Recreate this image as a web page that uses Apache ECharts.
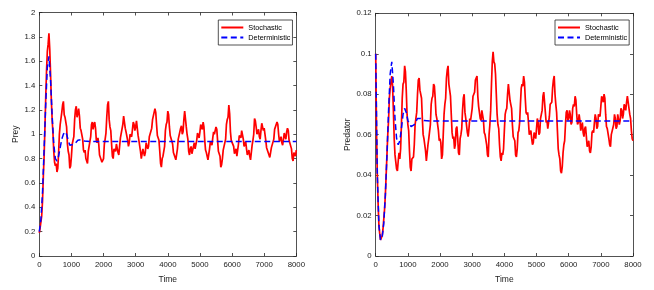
<!DOCTYPE html>
<html>
<head>
<meta charset="utf-8">
<script src="https://cdn.jsdelivr.net/npm/echarts@6/dist/echarts.min.js"></script>
<style>
html,body{margin:0;padding:0;background:#fff;}
#c{width:654px;height:290px;}
</style>
</head>
<body>
<div id="c"></div>
<script>
// ---- data ----
const stochStep = 25; // time between stochastic samples
const preyStoch = [
0.19,0.23,0.24,0.33,0.45,0.65,0.82,1.05,1.30,1.52,1.68,1.74,1.83,1.70,1.50,1.28,1.12,1.01,0.86,0.77,
0.74,0.76,0.69,0.72,0.84,1.00,1.08,1.09,1.18,1.24,1.27,1.16,1.14,1.15,1.06,0.92,0.86,0.83,0.72,0.74,
0.82,0.92,0.93,0.98,1.12,1.20,1.23,1.14,1.17,1.21,1.15,1.05,1.03,1.04,0.96,0.87,0.85,0.87,0.80,0.79,
0.76,0.86,0.90,0.90,0.98,1.08,1.10,1.04,1.08,1.10,1.05,0.95,0.93,0.97,0.92,0.83,0.82,0.84,0.77,0.76,
0.80,0.92,0.96,1.01,1.14,1.24,1.27,1.12,1.06,1.03,0.92,0.82,0.80,0.88,0.88,0.86,0.92,0.93,0.85,0.83,
0.90,0.97,0.96,0.98,1.08,1.15,1.16,1.05,1.02,1.02,0.95,0.90,0.93,1.00,1.00,0.98,1.04,1.10,1.08,1.03,
1.06,1.11,1.10,0.99,0.95,0.94,0.86,0.80,0.80,0.88,0.87,0.82,0.85,0.93,0.93,0.88,0.90,0.98,0.98,0.98,
1.05,1.12,1.12,1.13,1.21,1.18,1.08,0.99,0.98,0.95,0.86,0.76,0.73,0.80,0.82,0.82,0.90,1.03,1.08,1.10,
1.19,1.16,1.06,0.99,1.00,1.00,0.92,0.85,0.85,0.85,0.79,0.80,0.88,0.96,0.96,0.97,1.05,1.07,1.00,1.02,
1.12,1.19,1.20,1.06,1.00,0.96,0.86,0.83,0.88,0.90,0.84,0.84,0.90,0.93,0.88,0.88,0.95,1.01,0.99,0.97,
1.02,1.08,1.06,1.04,1.10,1.06,0.95,0.87,0.85,0.85,0.79,0.80,0.88,0.94,0.93,0.91,0.97,1.02,1.00,0.99,
1.06,1.04,0.95,0.86,0.85,0.82,0.73,0.75,0.80,0.87,0.86,0.87,0.96,1.08,1.12,1.14,1.24,1.17,1.02,0.95,
0.95,0.96,0.90,0.84,0.86,0.88,0.82,0.83,0.92,0.99,0.98,0.97,1.03,1.03,0.96,0.90,0.92,0.94,0.88,0.83,
0.85,0.87,0.82,0.79,0.79,0.91,0.95,1.00,1.13,1.11,1.06,1.00,1.02,1.04,0.98,0.96,1.03,1.09,1.10,1.03,
1.05,1.04,0.95,0.89,0.90,0.90,0.83,0.81,0.80,0.89,0.90,0.89,0.96,1.04,1.04,1.03,1.10,1.08,1.00,0.94,
0.95,0.98,0.93,0.91,0.96,1.01,0.98,0.96,1.02,1.05,1.03,0.95,0.95,0.95,0.88,0.80,0.78,0.85,0.85,0.82,
0.87];
const preyDetTime = [0,50,100,150,200,250,300,350,400,450,500,550,600,650,700,750,800,850,900,950,1000,1100,1200,1300,1400,1600,8000];
const preyDet = [0.20,0.30,0.52,0.88,1.25,1.55,1.64,1.45,1.15,0.92,0.80,0.78,0.82,0.89,0.96,1.00,1.02,1.00,0.95,0.91,0.90,0.92,0.95,0.955,0.945,0.94,0.94];

const predStoch = [
0.100,0.062,0.040,0.026,0.015,0.011,0.008,0.008,0.010,0.013,0.018,0.023,0.030,0.040,0.050,0.060,0.067,0.078,0.083,0.083,
0.089,0.084,0.072,0.058,0.050,0.050,0.043,0.042,0.047,0.051,0.048,0.053,0.065,0.078,0.085,0.086,0.094,0.091,0.082,0.070,
0.065,0.062,0.052,0.044,0.042,0.048,0.048,0.049,0.055,0.065,0.068,0.071,0.080,0.087,0.088,0.082,0.082,0.078,0.068,0.060,
0.058,0.058,0.052,0.047,0.047,0.055,0.058,0.058,0.065,0.075,0.078,0.079,0.085,0.084,0.078,0.070,0.068,0.068,0.062,0.057,
0.058,0.056,0.048,0.050,0.060,0.070,0.075,0.078,0.088,0.092,0.094,0.085,0.082,0.079,0.070,0.061,0.058,0.059,0.053,0.055,
0.063,0.064,0.058,0.051,0.050,0.058,0.060,0.063,0.072,0.078,0.080,0.071,0.068,0.068,0.061,0.059,0.063,0.068,0.067,0.067,
0.073,0.079,0.080,0.081,0.087,0.088,0.089,0.079,0.074,0.074,0.068,0.067,0.072,0.072,0.067,0.061,0.060,0.060,0.055,0.050,
0.049,0.060,0.065,0.072,0.085,0.096,0.101,0.096,0.095,0.090,0.080,0.070,0.065,0.063,0.055,0.049,0.047,0.051,0.050,0.053,
0.062,0.070,0.072,0.073,0.080,0.085,0.085,0.077,0.075,0.073,0.065,0.059,0.058,0.057,0.050,0.049,0.053,0.061,0.062,0.066,
0.075,0.083,0.085,0.084,0.089,0.086,0.078,0.071,0.070,0.071,0.066,0.060,0.060,0.062,0.058,0.055,0.056,0.061,0.060,0.058,
0.063,0.068,0.066,0.060,0.061,0.068,0.070,0.072,0.079,0.081,0.081,0.071,0.066,0.067,0.063,0.063,0.069,0.075,0.075,0.076,
0.083,0.087,0.089,0.080,0.075,0.071,0.062,0.053,0.050,0.048,0.042,0.041,0.044,0.051,0.055,0.057,0.065,0.071,0.072,0.067,
0.068,0.072,0.070,0.065,0.066,0.073,0.075,0.074,0.079,0.077,0.070,0.065,0.066,0.070,0.067,0.062,0.064,0.066,0.061,0.059,
0.063,0.064,0.059,0.054,0.055,0.057,0.052,0.051,0.054,0.061,0.062,0.061,0.066,0.070,0.068,0.063,0.064,0.070,0.070,0.069,
0.074,0.079,0.078,0.076,0.080,0.078,0.070,0.064,0.063,0.063,0.058,0.055,0.054,0.060,0.060,0.060,0.065,0.070,0.068,0.063,
0.064,0.070,0.070,0.065,0.067,0.073,0.072,0.068,0.070,0.075,0.074,0.072,0.076,0.079,0.079,0.073,0.070,0.068,0.062,0.058,
0.057];
const predDetTime = [0,50,100,150,200,250,300,350,400,450,500,550,600,650,700,750,800,850,900,950,1000,1100,1200,1300,1400,1500,1700,8000];
const predDet = [0.100,0.040,0.015,0.008,0.009,0.016,0.030,0.050,0.072,0.090,0.096,0.085,0.068,0.058,0.055,0.057,0.063,0.070,0.073,0.071,0.067,0.064,0.065,0.068,0.068,0.067,0.0667,0.0667];

// ---- build ----
const pairs = (vals, step) => vals.map((v, i) => [i * step, v]);
const pairsT = (ts, vals) => ts.map((t, i) => [t, vals[i]]);

const AX = '#262626';
const FONT = 'Liberation Sans, Arial, sans-serif';
const tickStyle = {show:true, inside:true, length:3, lineStyle:{color:AX, width:0.8}};
const lineStyle = {show:true, onZero:false, lineStyle:{color:AX, width:0.8}};
const lab = {color:'#222', fontSize:7.8, fontFamily:FONT, margin:5};

function xAxes(gi){
  return [
    {gridIndex:gi, type:'value', min:0, max:8000, interval:1000, position:'bottom',
     name:'Time', nameLocation:'middle', nameGap:19,
     nameTextStyle:{color:'#222', fontSize:8.5, fontFamily:FONT},
     axisLine:lineStyle, axisTick:tickStyle,
     axisLabel:Object.assign({}, lab, {formatter:v => String(v)}), splitLine:{show:false}},
    {gridIndex:gi, type:'value', min:0, max:8000, interval:1000, position:'top',
     axisLine:lineStyle, axisTick:tickStyle, axisLabel:{show:false}, splitLine:{show:false}}
  ];
}
function yAxes(gi, max, interval, name, gap){
  return [
    {gridIndex:gi, type:'value', min:0, max:max, interval:interval, position:'left',
     name:name, nameLocation:'middle', nameGap:gap,
     nameTextStyle:{color:'#222', fontSize:8.5, fontFamily:FONT},
     axisLine:lineStyle, axisTick:tickStyle, axisLabel:Object.assign({}, lab, {margin:4}), splitLine:{show:false}},
    {gridIndex:gi, type:'value', min:0, max:max, interval:interval, position:'right',
     axisLine:lineStyle, axisTick:tickStyle, axisLabel:{show:false}, splitLine:{show:false}}
  ];
}
function legend(left, top){
  return {
    orient:'vertical', left:left, top:top, data:['Stochastic','Deterministic'],
    backgroundColor:'#fff', borderColor:AX, borderWidth:0.8, padding:[4,2,4,2],
    itemWidth:22, itemHeight:8, itemGap:3, selectedMode:false,
    itemStyle:{opacity:0},
    textStyle:{color:'#000', fontSize:7.3, fontFamily:FONT}
  };
}
const red = {color:'#ff0000', width:1.7};
const blue = {color:'#0000ff', width:1.5, type:[6,3.5]};

const option = {
  animation:false,
  backgroundColor:'#fff',
  grid:[
    {left:39.3, right:357.7, top:12.5, bottom:34},
    {left:375.7, right:21, top:13.3, bottom:34}
  ],
  legend:[legend(218.3, 20), legend(555, 20)],
  xAxis:[...xAxes(0), ...xAxes(1)],
  yAxis:[...yAxes(0, 2, 0.2, 'Prey', 19), ...yAxes(1, 0.12, 0.02, 'Predator', 21)],
  series:[
    {name:'Stochastic', type:'line', xAxisIndex:0, yAxisIndex:0, symbol:'none', lineStyle:red, itemStyle:{color:'#ff0000'}, data:pairs(preyStoch, stochStep)},
    {name:'Deterministic', type:'line', xAxisIndex:0, yAxisIndex:0, symbol:'none', lineStyle:blue, itemStyle:{color:'#0000ff'}, data:pairsT(preyDetTime, preyDet)},
    {name:'Stochastic', type:'line', xAxisIndex:2, yAxisIndex:2, symbol:'none', lineStyle:red, itemStyle:{color:'#ff0000'}, data:pairs(predStoch, stochStep)},
    {name:'Deterministic', type:'line', xAxisIndex:2, yAxisIndex:2, symbol:'none', lineStyle:blue, itemStyle:{color:'#0000ff'}, data:pairsT(predDetTime, predDet)}
  ]
};
const chart = echarts.init(document.getElementById('c'), null, {renderer:'canvas'});
chart.setOption(option);
</script>
</body>
</html>
